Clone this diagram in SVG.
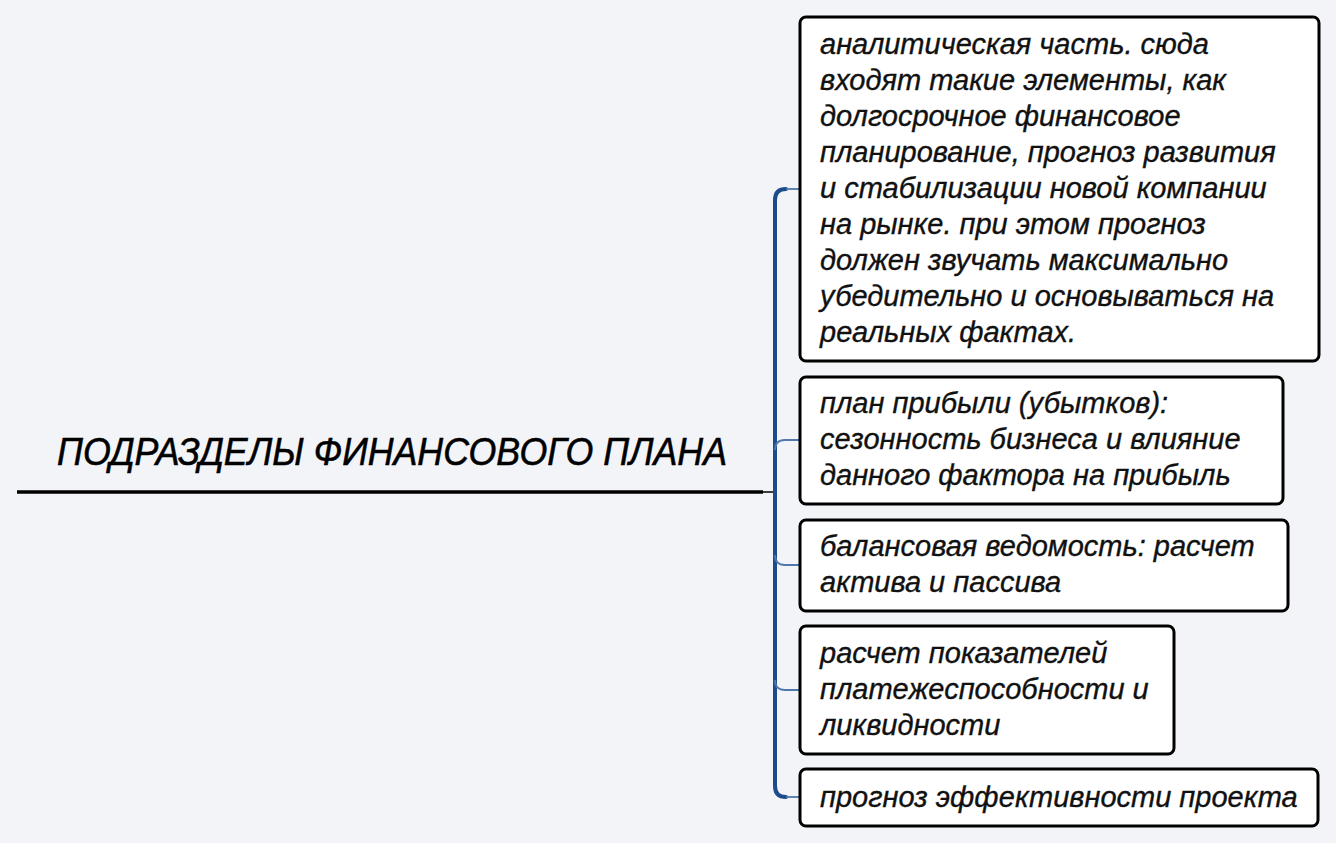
<svg xmlns="http://www.w3.org/2000/svg" width="1336" height="843" viewBox="0 0 1336 843">
<style>
.box{fill:#ffffff;stroke:#000000;stroke-width:3}
.t{font-family:"Liberation Sans",Arial,sans-serif;font-style:italic;font-size:29px;fill:#111111;stroke:#111111;stroke-width:0.35}
.title{font-family:"Liberation Sans",Arial,sans-serif;font-style:italic;font-size:39px;fill:#000000;stroke:#000000;stroke-width:0.6}
.trunk{fill:none;stroke:#1c4c8c;stroke-width:4;stroke-linecap:round}
.br{fill:none;stroke:#4f78ad;stroke-width:1.8}
</style>
<rect x="0" y="0" width="1336" height="843" fill="#f2f4f8"/>
<g id="root">
<text class="title" x="57" y="465" textLength="670" lengthAdjust="spacingAndGlyphs">ПОДРАЗДЕЛЫ ФИНАНСОВОГО ПЛАНА</text>
<line x1="17" y1="492" x2="763" y2="492" stroke="#000" stroke-width="3.5"/>
</g>
<g id="connectors">
<line x1="763" y1="492" x2="775" y2="492" stroke="#000" stroke-width="1.5"/>
<path class="trunk" d="M786,189 Q775,189 775,200 L775,786 Q775,797 786,797"/>
<path class="br" d="M786,189 L800,189"/>
<path class="br" d="M786,797 L800,797"/>
<path class="br" d="M775,450 Q775,440 785,440 L800,440"/>
<path class="br" d="M775,555 Q775,565 785,565 L800,565"/>
<path class="br" d="M775,680 Q775,690 785,690 L800,690"/>
</g>
<g id="n1">
<rect class="box" x="800" y="17" width="519" height="344" rx="6"/>
<text class="t" x="820" y="54">аналитическая часть. сюда</text>
<text class="t" x="820" y="90">входят такие элементы, как</text>
<text class="t" x="820" y="126">долгосрочное финансовое</text>
<text class="t" x="820" y="162">планирование, прогноз развития</text>
<text class="t" x="820" y="198">и стабилизации новой компании</text>
<text class="t" x="820" y="234">на рынке. при этом прогноз</text>
<text class="t" x="820" y="270">должен звучать максимально</text>
<text class="t" x="820" y="306">убедительно и основываться на</text>
<text class="t" x="820" y="342">реальных фактах.</text>
</g>
<g id="n2">
<rect class="box" x="800" y="377" width="483" height="127" rx="6"/>
<text class="t" x="820" y="413">план прибыли (убытков):</text>
<text class="t" x="820" y="449">сезонность бизнеса и влияние</text>
<text class="t" x="820" y="485">данного фактора на прибыль</text>
</g>
<g id="n3">
<rect class="box" x="800" y="520" width="488" height="91" rx="6"/>
<text class="t" x="820" y="556">балансовая ведомость: расчет</text>
<text class="t" x="820" y="592">актива и пассива</text>
</g>
<g id="n4">
<rect class="box" x="800" y="626" width="374" height="128" rx="6"/>
<text class="t" x="820" y="663">расчет показателей</text>
<text class="t" x="820" y="699">платежеспособности и</text>
<text class="t" x="820" y="735">ликвидности</text>
</g>
<g id="n5">
<rect class="box" x="800" y="769" width="518" height="57" rx="6"/>
<text class="t" x="820" y="807">прогноз эффективности проекта</text>
</g>
</svg>
